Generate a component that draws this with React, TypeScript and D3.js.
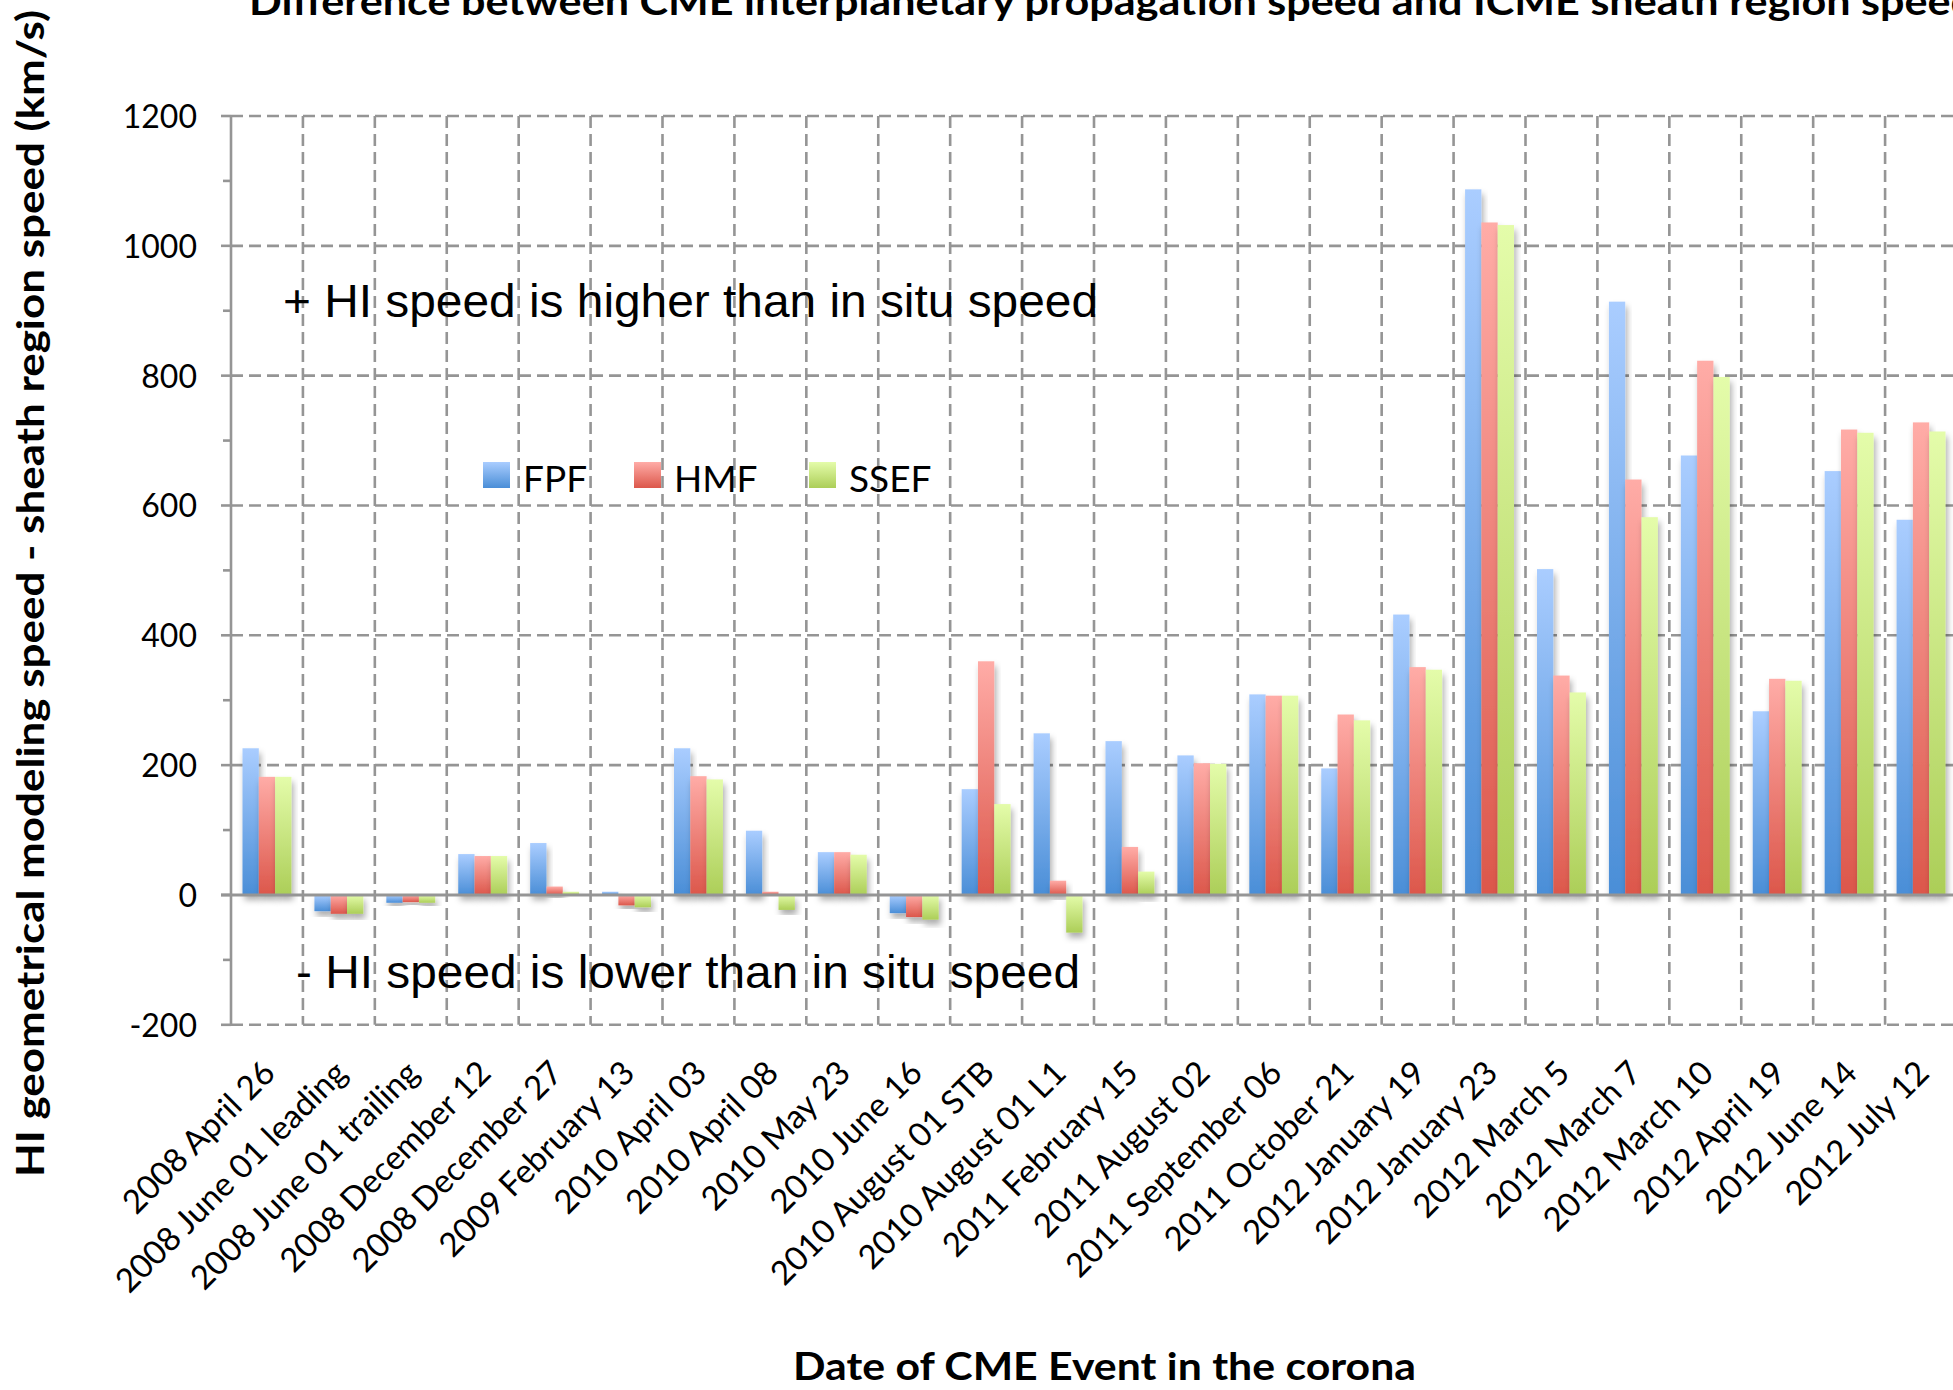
import React from 'react';
import * as d3 from 'd3';

const W = 1953;
const H = 1390;

// CME events (date in the corona)
const categories = [
  '2008 April 26',
  '2008 June 01 leading',
  '2008 June 01 trailing',
  '2008 December 12',
  '2008 December 27',
  '2009 February 13',
  '2010 April 03',
  '2010 April 08',
  '2010 May 23',
  '2010 June 16',
  '2010 August 01 STB',
  '2010 August 01 L1',
  '2011 February 15',
  '2011 August 02',
  '2011 September 06',
  '2011 October 21',
  '2012 January 19',
  '2012 January 23',
  '2012 March 5',
  '2012 March 7',
  '2012 March 10',
  '2012 April 19',
  '2012 June 14',
  '2012 July 12',
];

// HI speed minus sheath region speed (km/s)
const fpf = [226, -25, -12, 63, 80, 5, 226, 99, 66, -28, 163, 249, 237, 215, 309, 195, 432, 1087, 502, 914, 677, 283, 653, 578];
const hmf = [182, -29, -11, 60, 13, -16, 183, 5, 66, -34, 360, 22, 74, 203, 307, 278, 351, 1036, 338, 640, 823, 333, 717, 728];
const ssef = [182, -29, -12, 60, 5, -19, 178, -23, 62, -38, 140, -58, 36, 202, 307, 269, 347, 1032, 312, 582, 798, 330, 712, 714];

const seriesNames = ['FPF', 'HMF', 'SSEF'];
const seriesValues = [fpf, hmf, ssef];
const seriesTop = ['#aacdff', '#ffaca7', '#e4fcaa'];
const seriesBottom = ['#4a8ed7', '#dc574b', '#acce58'];

const yMajor = [-200, 0, 200, 400, 600, 800, 1000, 1200];
const yMinor = [-100, 100, 300, 500, 700, 900, 1100];

const GRID = '#959595';
const LABEL_FONT = 'Lato, "DejaVu Sans", sans-serif';
const NOTE_FONT = '"Liberation Sans", Arial, sans-serif';

export default function App() {
  const x = d3.scaleBand<string>().domain(categories).range([231, 1957]).padding(0);
  const xs = d3
    .scaleBand<string>()
    .domain(seriesNames)
    .range([0, x.bandwidth()])
    .paddingInner(0)
    .paddingOuter(0.705);
  const y = d3.scaleLinear().domain([-200, 1200]).range([1024.8, 116]);

  const left = x.range()[0];
  const right = x.range()[1];
  const y0 = y(0);

  return (
    <div style={{ position: 'absolute', left: 0, top: 0, width: W, height: H, background: '#fff' }}>
      <svg width={W} height={H} viewBox={`0 0 ${W} ${H}`} style={{ display: 'block' }}>
        <defs>
          {seriesNames.map((s, i) => (
            <linearGradient key={s} id={`grad-${s}`} x1="0" y1="0" x2="0" y2="1">
              <stop offset="0%" stopColor={seriesTop[i]} />
              <stop offset="100%" stopColor={seriesBottom[i]} />
            </linearGradient>
          ))}
          <filter id="barShadow" x="-40%" y="-10%" width="180%" height="140%">
            <feDropShadow dx="2" dy="5" stdDeviation="3" floodColor="#000" floodOpacity="0.32" />
          </filter>
        </defs>

        <rect x={0} y={0} width={W} height={H} fill="#fff" />

        {/* title, its top edge runs past the top of the frame */}
        <text
          x={249}
          y={15}
          fontFamily={LABEL_FONT}
          fontWeight={700}
          fontSize={38}
          textLength={1726}
          lengthAdjust="spacingAndGlyphs"
          fill="#000"
        >
          Difference between CME interplanetary propagation speed and ICME sheath region speed
        </text>

        {/* horizontal gridlines */}
        {yMajor
          .filter((v) => v !== 0)
          .map((v) => (
            <line
              key={`hg${v}`}
              x1={left}
              x2={right}
              y1={y(v)}
              y2={y(v)}
              stroke={GRID}
              strokeWidth={2.6}
              strokeDasharray="12 6"
            />
          ))}

        {/* vertical gridlines at category boundaries */}
        {categories.slice(0, -1).map((c) => {
          const bx = (x(c) as number) + x.bandwidth();
          return (
            <line
              key={`vg${c}`}
              x1={bx}
              x2={bx}
              y1={y(1200)}
              y2={y(-200)}
              stroke={GRID}
              strokeWidth={2.6}
              strokeDasharray="12 6"
            />
          );
        })}

        {/* y axis with ticks */}
        <line x1={left} x2={left} y1={y(1200)} y2={y(-200)} stroke={GRID} strokeWidth={2.6} />
        {yMajor.map((v) => (
          <line key={`mt${v}`} x1={left - 10} x2={left} y1={y(v)} y2={y(v)} stroke={GRID} strokeWidth={2.6} />
        ))}
        {yMinor.map((v) => (
          <line key={`nt${v}`} x1={left - 8} x2={left} y1={y(v)} y2={y(v)} stroke={GRID} strokeWidth={2.6} />
        ))}
        {yMajor.map((v) => (
          <text
            key={`yl${v}`}
            x={197}
            y={y(v) + 12}
            textAnchor="end"
            fontFamily={LABEL_FONT}
            fontSize={32}
            fill="#000"
          >
            {v}
          </text>
        ))}

        {/* bars */}
        {categories.map((c, ci) => (
          <g key={`bars${c}`}>
            {seriesNames.map((s, si) => {
              const v = seriesValues[si][ci];
              const bx = (x(c) as number) + (xs(s) as number);
              const top = Math.min(y(v), y0);
              const h = Math.abs(y(v) - y0);
              return (
                <rect
                  key={s}
                  x={bx}
                  y={top}
                  width={xs.bandwidth()}
                  height={h}
                  fill={`url(#grad-${s})`}
                  filter="url(#barShadow)"
                />
              );
            })}
          </g>
        ))}

        {/* zero line */}
        <line x1={left - 10} x2={right} y1={y0} y2={y0} stroke={GRID} strokeWidth={3} />

        {/* category labels */}
        {categories.map((c) => {
          const px = (x(c) as number) + x.bandwidth() / 2 + 10;
          const py = 1075;
          return (
            <text
              key={`xl${c}`}
              transform={`translate(${px},${py}) rotate(-45)`}
              textAnchor="end"
              fontFamily={LABEL_FONT}
              fontSize={33}
              fill="#000"
            >
              {c}
            </text>
          );
        })}

        {/* annotations */}
        <text
          x={283}
          y={317}
          fontFamily={NOTE_FONT}
          fontSize={46}
          textLength={815}
          lengthAdjust="spacingAndGlyphs"
          fill="#000"
        >
          + HI speed is higher than in situ speed
        </text>
        <text
          x={296}
          y={988}
          fontFamily={NOTE_FONT}
          fontSize={46}
          textLength={784}
          lengthAdjust="spacingAndGlyphs"
          fill="#000"
        >
          - HI speed is lower than in situ speed
        </text>

        {/* legend */}
        {seriesNames.map((s, i) => {
          const lx = [483, 634, 809][i];
          return (
            <g key={`lg${s}`}>
              <rect x={lx} y={462} width={27} height={26} fill={`url(#grad-${s})`} />
              <text x={lx + 40} y={492} fontFamily={LABEL_FONT} fontSize={37} fill="#000">
                {s}
              </text>
            </g>
          );
        })}

        {/* axis titles */}
        <text
          transform={`translate(44,593.5) rotate(-90)`}
          textAnchor="middle"
          fontFamily={LABEL_FONT}
          fontWeight={700}
          fontSize={38}
          textLength={1167}
          lengthAdjust="spacingAndGlyphs"
          fill="#000"
        >
          HI geometrical modeling speed - sheath region speed  (km/s)
        </text>
        <text
          x={793}
          y={1380}
          fontFamily={LABEL_FONT}
          fontWeight={700}
          fontSize={38}
          textLength={623}
          lengthAdjust="spacingAndGlyphs"
          fill="#000"
        >
          Date of CME Event in the corona
        </text>
      </svg>
    </div>
  );
}
